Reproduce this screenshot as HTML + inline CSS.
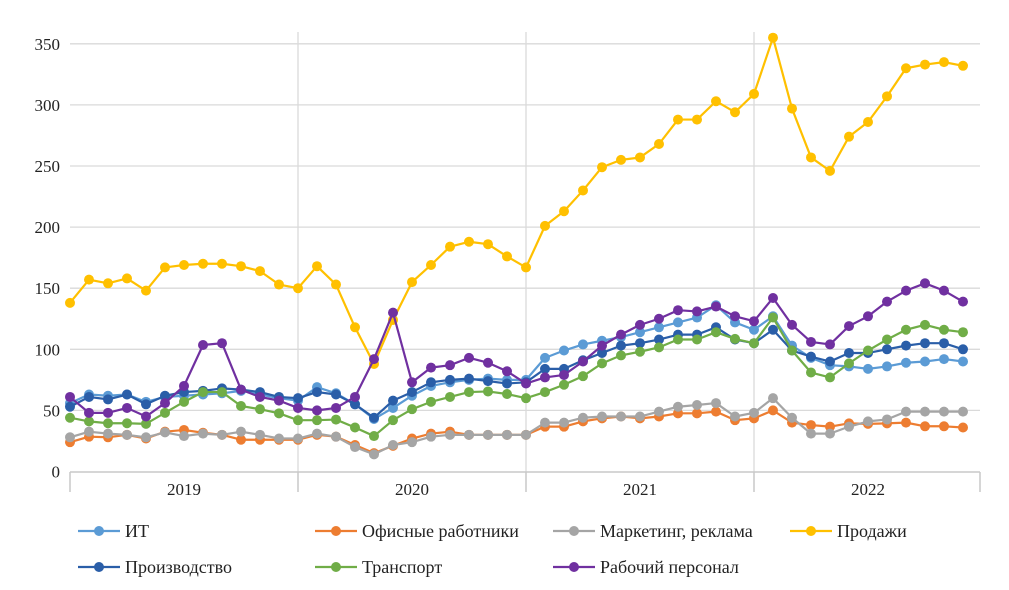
<!DOCTYPE html>
<html><head><meta charset="utf-8">
<style>
body{margin:0;background:#fff;}
svg{display:block;font-family:"Liberation Serif",serif;}
</style></head>
<body>
<svg id="chart" width="1009" height="590" viewBox="0 0 1009 590" xmlns="http://www.w3.org/2000/svg"></svg>
<script>
const years = ["2019","2020","2021","2022"];
const yTicks = [0,50,100,150,200,250,300,350];
const seriesNames = ["ИТ","Офисные работники","Маркетинг, реклама","Продажи","Производство","Транспорт","Рабочий персонал"];
const seriesColors = ["#5b9bd5","#ed7d31","#a5a5a5","#ffc000","#2a5ea8","#70ad47","#7030a0"];
const itValues = [56,63,62,63,57,61,62,63,64,66,63,60,58,69,64,55,43,52,62,70,73,75,76,75,75,93,99,104,107,110,114,118,122,126,136,122,116,127,103,93,87,86,84,86,89,90,92,90];
const officeValues = [24,28.5,28,30,27,32.6,34,31.7,30,26,26,26,26,30,28.5,21.7,15,21,27,31,32.6,30,30,30,30,36.7,36.7,41,43.5,45,43.5,45,47.6,47.6,49,42,43.5,50,40,38,36.7,39.4,39,39.4,40,37,37,36];
const marketingValues = [28,32.6,31,30,28,32,29,31,30,32.6,30,27,27,31,28.5,20,14,21.7,24,28.5,30,30,30,30,30,40,40,44,45,45,45,49,53,54.4,56,45,48,60,44,31,31,36.7,41,42.6,49,49,49,49];
const salesValues = [138,157,154,158,148,167,169,170,170,168,164,153,150,168,153,118,88,124,155,169,184,188,186,176,167,201,213,230,249,255,257,268,288,288,303,294,309,355,297,257,246,274,286,307,330,333,335,332];
const productionValues = [53,61,59,63,55,62,65,66,68,67,65,61,60,65,63,55,44,58,65,73,75,76,74,72,73,84,84,91,97,103,105,108,112,112,118,108,105,116,99,94,90,97,97,100,103,105,105,100];
const transportValues = [44,41,39.5,39.5,39,48,57,65,65,53.6,51,47.6,42,42,42.5,36,29,42,51,57,61,65,65.5,63.4,60,65,71,78,88.5,95,98,101.6,108,108,114,108.5,105,126,99,81,77,88.5,99,108,116,120,116,114];
const workersValues = [61,48,48,52,45,56,70,103.5,105,67,61,58,52,50,52,61,92,130,73,85,87,93,89,82,72,77,79,90,103,112,120,125,132,131,135,127,123,142,120,106,104,119,127,139,148,154,148,139];
const allSeries = [itValues,officeValues,marketingValues,salesValues,productionValues,transportValues,workersValues];

const NS="http://www.w3.org/2000/svg";
const svg=document.getElementById('chart');
const X0=70, STEP=19, Y0=471.5, YS=1.222;
const xScale=i=>X0+STEP*i;
const yScale=v=>Y0-v*YS;
function mk(tag,attrs,parent){const e=document.createElementNS(NS,tag);for(const k in attrs)e.setAttribute(k,attrs[k]);(parent||svg).appendChild(e);return e;}

yTicks.forEach(t=>{
  if(t>0){
    const g=mk('line',{x1:X0,x2:980,y1:yScale(t),y2:yScale(t),stroke:'#dadada','stroke-width':1.3});
    
    
  }
  const tx=mk('text',{x:60,y:yScale(t)+6,'text-anchor':'end','font-size':17,fill:'#222'});
  tx.textContent=t;
  
  
});
years.forEach((y,k)=>{
  const xb=xScale(k*12);
  if(k>0){
    const v=mk('line',{x1:xb,x2:xb,y1:32,y2:472,stroke:'#dadada','stroke-width':1.3});
    
    
  }
  const tk=mk('line',{x1:xb,x2:xb,y1:472,y2:492,stroke:'#c8c8c8','stroke-width':1.5});
  
  
  const lbl=mk('text',{x:xb+114,y:495,'text-anchor':'middle','font-size':17,fill:'#222'});
  lbl.textContent=y;
  
  
});
const endTick=mk('line',{x1:980,x2:980,y1:472,y2:492,stroke:'#c8c8c8','stroke-width':1.5});


const axis=mk('line',{x1:X0,x2:980,y1:472,y2:472,stroke:'#c8c8c8','stroke-width':1.5});



allSeries.forEach((vals,s)=>{
  const g=mk('g',{});
  
  
  const pts=vals.map((v,i)=>xScale(i)+','+yScale(v)).join(' ');
  const pl=mk('polyline',{points:pts,fill:'none',stroke:seriesColors[s],'stroke-width':2.2,'stroke-linejoin':'round'},g);
  
  
  vals.forEach((v,i)=>{
    const c=mk('circle',{cx:xScale(i),cy:yScale(v),r:5,fill:seriesColors[s]},g);
    
    
  });
});

const legendPos=[[78,531],[315,531],[553,531],[790,531],[78,567],[315,567],[553,567]];
seriesNames.forEach((n,s)=>{
  const [lx,ly]=legendPos[s];
  const g=mk('g',{});
  
  
  mk('line',{x1:lx,x2:lx+42,y1:ly,y2:ly,stroke:seriesColors[s],'stroke-width':2.2},g);
  mk('circle',{cx:lx+21,cy:ly,r:5,fill:seriesColors[s]},g);
  const t=mk('text',{x:lx+47,y:ly+6,'font-size':18,fill:'#222'},g);
  t.textContent=n;
});
</script>
</body></html>
